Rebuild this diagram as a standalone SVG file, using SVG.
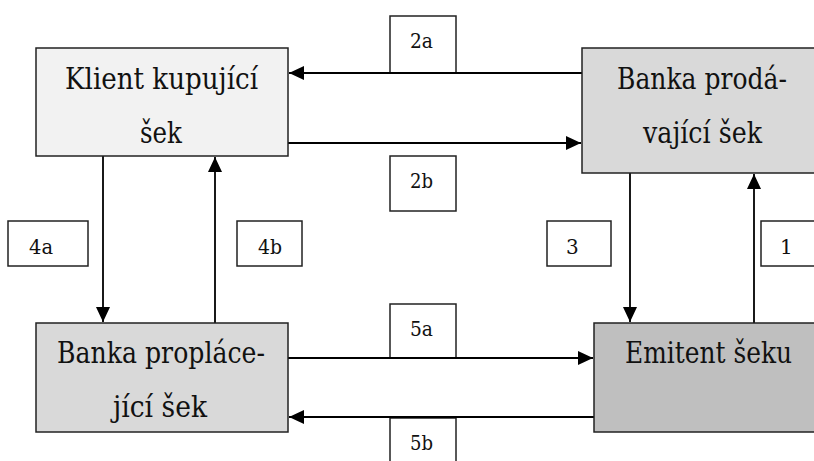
<svg xmlns="http://www.w3.org/2000/svg" width="814" height="461" viewBox="0 0 814 461">
<style>
.node{stroke:#222;stroke-width:1.5}
.lbl{fill:#fff;stroke:#222;stroke-width:1.5}
.c{stroke:#000;stroke-width:1.8;fill:none;marker-end:url(#ah)}
</style>
<defs>
<marker id="ah" markerWidth="16" markerHeight="14" refX="15" refY="7" orient="auto" markerUnits="userSpaceOnUse">
<path d="M0,0 L15,7 L0,14 Z" fill="#000"/>
</marker>
</defs>
<rect width="814" height="461" fill="#fff"/>
<g id="labels" font-family="DejaVu Serif, serif" font-size="20" fill="#111">
<g id="l2a"><rect class="lbl" x="390" y="16" width="66" height="57"/><text x="410" y="48" textLength="23" lengthAdjust="spacingAndGlyphs">2a</text></g>
<g id="l2b"><rect class="lbl" x="390" y="156" width="66" height="55"/><text x="410" y="188" textLength="23" lengthAdjust="spacingAndGlyphs">2b</text></g>
<g id="l4a"><rect class="lbl" x="8" y="221" width="80" height="45"/><text x="29" y="254" textLength="24" lengthAdjust="spacingAndGlyphs">4a</text></g>
<g id="l4b"><rect class="lbl" x="237" y="221" width="65" height="45"/><text x="258" y="254" textLength="24" lengthAdjust="spacingAndGlyphs">4b</text></g>
<g id="l3"><rect class="lbl" x="547" y="221" width="64" height="45"/><text x="566" y="254">3</text></g>
<g id="l1"><rect class="lbl" x="761" y="221" width="70" height="45"/><text x="780" y="254">1</text></g>
<g id="l5a"><rect class="lbl" x="390" y="304" width="66" height="54"/><text x="410" y="336" textLength="23" lengthAdjust="spacingAndGlyphs">5a</text></g>
<g id="l5b"><rect class="lbl" x="390" y="418" width="66" height="60"/><text x="410" y="450" textLength="23" lengthAdjust="spacingAndGlyphs">5b</text></g>
</g>
<g id="connectors">
<line class="c" x1="582" y1="73" x2="289" y2="73"/>
<line class="c" x1="288" y1="143" x2="581" y2="143"/>
<line class="c" x1="103" y1="156" x2="103" y2="322"/>
<line class="c" x1="215" y1="323" x2="215" y2="157"/>
<line class="c" x1="630" y1="173" x2="630" y2="322"/>
<line class="c" x1="754" y1="323" x2="754" y2="174"/>
<line class="c" x1="288" y1="358" x2="593" y2="358"/>
<line class="c" x1="594" y1="417" x2="289" y2="417"/>
</g>
<g id="nodes" font-family="DejaVu Serif, serif" font-size="29" fill="#111">
<g id="klient"><rect class="node" x="36" y="48" width="252" height="108" fill="#f2f2f2"/><text x="65" y="89" textLength="193" lengthAdjust="spacingAndGlyphs">Klient kupující</text><text x="140" y="143" textLength="42" lengthAdjust="spacingAndGlyphs">šek</text></g>
<g id="banka-prodavajici"><rect class="node" x="582" y="48" width="250" height="125" fill="#d9d9d9"/><text x="617" y="89" textLength="170" lengthAdjust="spacingAndGlyphs">Banka prodá-</text><text x="643" y="143" textLength="119" lengthAdjust="spacingAndGlyphs">vající šek</text></g>
<g id="banka-proplacejici"><rect class="node" x="36" y="323" width="252" height="109" fill="#d9d9d9"/><text x="57" y="363" textLength="208" lengthAdjust="spacingAndGlyphs">Banka propl&#225;ce-</text><text x="113" y="417" textLength="94" lengthAdjust="spacingAndGlyphs">jící šek</text></g>
<g id="emitent"><rect class="node" x="594" y="323" width="240" height="109" fill="#bfbfbf"/><text x="625" y="363" textLength="167" lengthAdjust="spacingAndGlyphs">Emitent šeku</text></g>
</g>
</svg>
